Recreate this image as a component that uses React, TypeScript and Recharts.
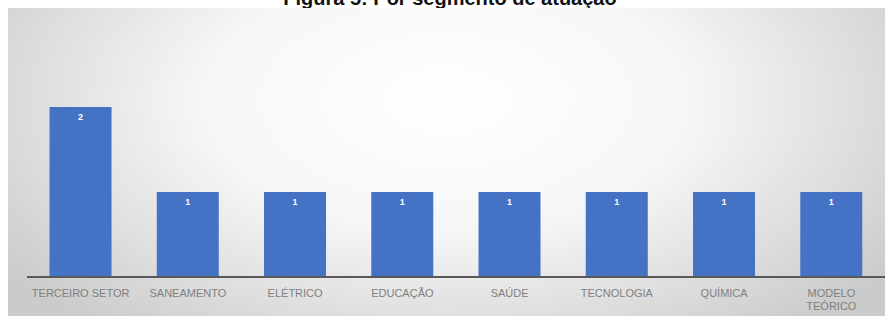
import { BarChart, Bar, XAxis, YAxis, LabelList } from "recharts";

const segments = [
  "TERCEIRO SETOR",
  "SANEAMENTO",
  "ELÉTRICO",
  "EDUCAÇÃO",
  "SAÚDE",
  "TECNOLOGIA",
  "QUÍMICA",
  "MODELO\nTEÓRICO",
];
const counts = [2, 1, 1, 1, 1, 1, 1, 1];

const data = segments.map((name, i) => ({ name, value: counts[i] }));

const SegmentTick = (props: any) => {
  const { x, y, payload } = props;
  const lines = String(payload.value).split("\n");
  return (
    <text
      x={x}
      y={y + 12}
      textAnchor="middle"
      fill="#7f7f7f"
      fontSize={11}
      fontFamily="Liberation Sans, Arial, sans-serif"
    >
      {lines.map((line, i) => (
        <tspan key={i} x={x} dy={i === 0 ? 0 : 13}>
          {line}
        </tspan>
      ))}
    </text>
  );
};

export default function App() {
  return (
    <div
      style={{
        position: "absolute",
        left: 0,
        top: 0,
        width: 890,
        height: 316,
        overflow: "hidden",
        background: "#fff",
      }}
    >
      <div
        style={{
          position: "absolute",
          left: 0,
          right: 0,
          top: -13,
          textAlign: "center",
          fontFamily: "Liberation Sans, Arial, sans-serif",
          fontWeight: "bold",
          fontSize: 20,
          paddingLeft: 10,
          color: "#111",
        }}
      >
        Figura 5: Por segmento de atuação
      </div>
      <div
        style={{
          position: "absolute",
          left: 8,
          top: 8,
          width: 877,
          height: 308,
          background:
            "radial-gradient(ellipse 62% 95% at 50% 30%, #ffffff 0%, #f6f6f6 45%, #cbcbcb 100%)",
        }}
      />
      <div style={{ position: "absolute", left: 0, top: 0 }}>
        <BarChart
          width={890}
          height={316}
          data={data}
          margin={{ top: 107, right: 5, bottom: 0, left: 27 }}
          barCategoryGap="21%"
        >
          <YAxis hide domain={[0, 2]} />
          <XAxis
            dataKey="name"
            interval={0}
            height={39}
            tickLine={false}
            axisLine={{ stroke: "#595959", strokeWidth: 2 }}
            tick={<SegmentTick />}
          />
          <Bar dataKey="value" fill="#4472C4" isAnimationActive={false}>
            <LabelList
              dataKey="value"
              position="insideTop"
              offset={7}
              fill="#ffffff"
              fontSize={9}
              fontWeight="bold"
              fontFamily="Liberation Sans, Arial, sans-serif"
            />
          </Bar>
        </BarChart>
      </div>
    </div>
  );
}
